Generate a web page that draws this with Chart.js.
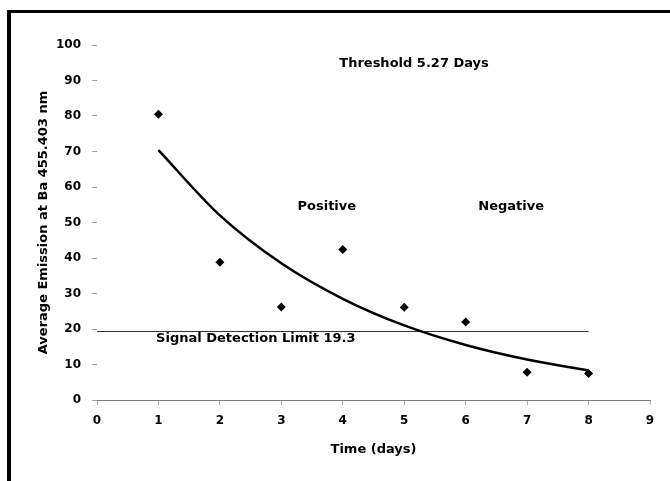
<!DOCTYPE html>
<html>
<head>
<meta charset="utf-8">
<script src="https://cdn.jsdelivr.net/npm/chart.js@4/dist/chart.umd.min.js"></script>
<style>
html,body{margin:0;padding:0;background:#fff;}
canvas{display:block;}
</style>
</head>
<body>
<canvas id="c" width="670" height="481"></canvas>
<script>
// ---- data ----
const days = [1, 2, 3, 4, 5, 6, 7, 8];
const emission = [80.5, 38.8, 26.2, 42.4, 26.1, 22.0, 7.8, 7.5];
const trendDays = [1, 2, 3, 4, 5, 6, 7, 8];
const trendValues = [70.4, 52.0, 38.5, 28.5, 21.0, 15.5, 11.4, 8.3];
const limitDays = [0, 8];
const limitValue = 19.3;
const xTickValues = [0, 1, 2, 3, 4, 5, 6, 7, 8, 9];
const yTickValues = [0, 10, 20, 30, 40, 50, 60, 70, 80, 90, 100];
const noteTexts = ['Threshold 5.27 Days', 'Positive', 'Negative', 'Signal Detection Limit 19.3'];
const xTitle = 'Time (days)';
const yTitle = 'Average Emission at Ba 455.403 nm';

const FONT = '"DejaVu Sans", "Liberation Sans", Arial, sans-serif';

const framePlugin = {
  id: 'frame',
  beforeDraw(chart) {
    const c = chart.ctx;
    c.save();
    c.fillStyle = '#fff';
    c.fillRect(0, 0, chart.width, chart.height);
    c.restore();
  },
  afterDraw(chart) {
    const c = chart.ctx;
    c.save();
    c.fillStyle = '#000';
    c.fillRect(7, 10, chart.width - 7, 3);
    c.fillRect(7, 10, 4, chart.height - 10);
    c.restore();
  }
};

const notesPlugin = {
  id: 'notes',
  afterDatasetsDraw(chart, args, opts) {
    const c = chart.ctx;
    const xs = chart.scales.x, ys = chart.scales.y;
    c.save();
    c.fillStyle = '#000';
    c.font = 'bold 13px ' + FONT;
    c.textAlign = 'center';
    c.textBaseline = 'middle';
    noteTexts.forEach((t, i) => {
      const p = opts.spots[i];
      c.fillText(t, xs.getPixelForValue(p[0]), ys.getPixelForValue(p[1]));
    });
    c.restore();
  }
};

new Chart(document.getElementById('c'), {
  type: 'scatter',
  data: {
    datasets: [
      {
        data: days.map((d, i) => ({ x: d, y: emission[i] })),
        pointStyle: 'rectRot',
        pointRadius: 4.5,
        backgroundColor: '#000',
        borderColor: '#000',
        borderWidth: 0,
        showLine: false,
        order: 0
      },
      {
        type: 'line',
        data: trendDays.map((d, i) => ({ x: d, y: trendValues[i] })),
        borderColor: '#000',
        borderWidth: 2.5,
        pointRadius: 0,
        cubicInterpolationMode: 'monotone',
        fill: false,
        order: 1
      },
      {
        type: 'line',
        data: limitDays.map(d => ({ x: d, y: limitValue })),
        borderColor: '#333',
        borderWidth: 1,
        pointRadius: 0,
        fill: false,
        order: 2
      }
    ]
  },
  options: {
    responsive: false,
    animation: false,
    devicePixelRatio: 1,
    layout: { padding: { left: 0, right: 20, top: 45, bottom: 0 } },
    plugins: {
      legend: { display: false },
      tooltip: { enabled: false },
      notes: { spots: [[5.16, 94.7], [3.74, 54.5], [6.74, 54.4], [2.585, 17.2]] }
    },
    scales: {
      x: {
        type: 'linear',
        min: 0, max: 9,
        afterBuildTicks: s => { s.ticks = xTickValues.map(v => ({ value: v })); },
        afterFit: s => { s.height = 81; },
        grid: { drawOnChartArea: false, drawTicks: true, tickLength: 5, tickColor: '#b0b0b0' },
        border: { display: true, color: '#808080', width: 1 },
        ticks: { color: '#000', padding: 9, font: { family: FONT, size: 12, weight: 'bold' } },
        title: { display: true, text: xTitle, color: '#000', font: { family: FONT, size: 13, weight: 'bold' }, padding: { top: 0, bottom: 24 } }
      },
      y: {
        type: 'linear',
        min: 0, max: 100,
        afterBuildTicks: s => { s.ticks = yTickValues.map(v => ({ value: v })); },
        afterFit: s => { s.width = 97; },
        grid: { drawOnChartArea: false, drawTicks: true, tickLength: 5, tickColor: '#a0a0a0' },
        border: { display: false },
        ticks: { color: '#000', padding: 11, font: { family: FONT, size: 12, weight: 'bold' } },
        title: { display: true, text: yTitle, color: '#000', font: { family: FONT, size: 13, weight: 'bold' }, padding: { top: 36, bottom: 0 } }
      }
    }
  },
  plugins: [framePlugin, notesPlugin]
});
</script>
</body>
</html>
